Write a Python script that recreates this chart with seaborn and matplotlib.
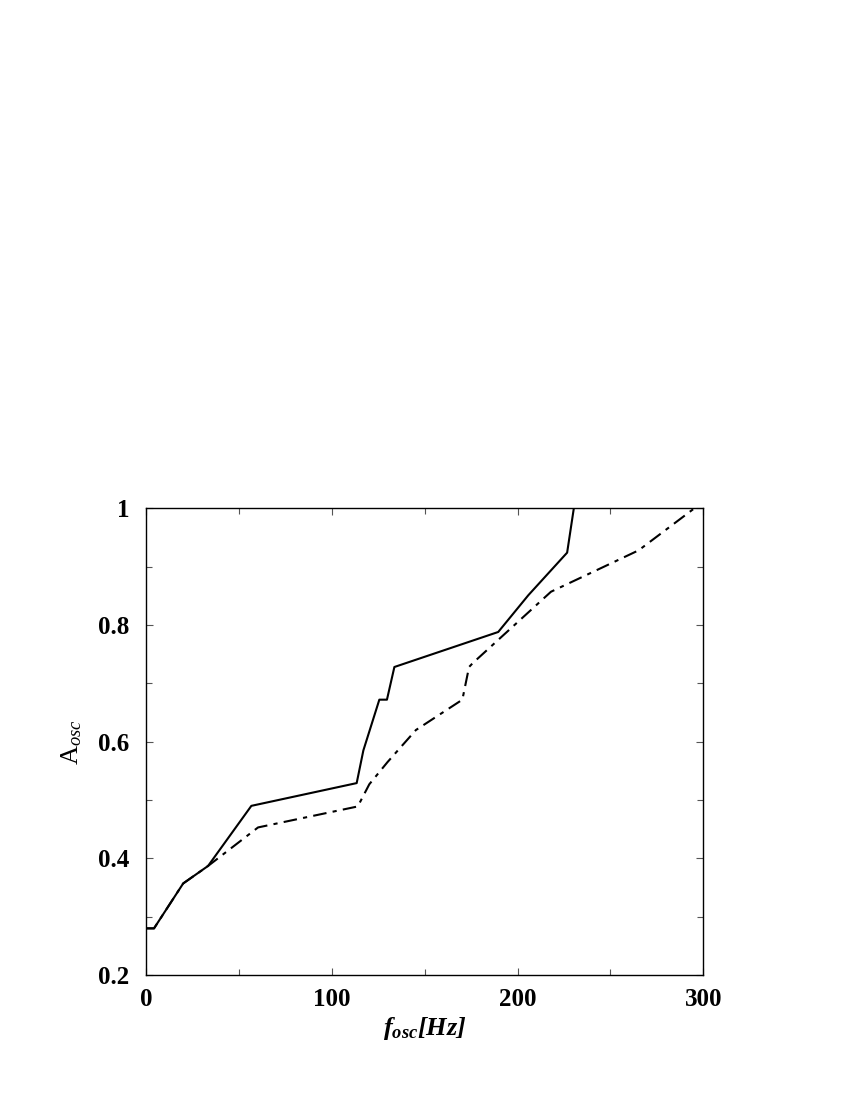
import matplotlib
matplotlib.use("Agg")
import matplotlib.pyplot as plt
import seaborn as sns
import pandas as pd
from matplotlib.ticker import MultipleLocator, FixedLocator

# Data
freq_solid = [0, 4.3, 20, 33.4, 56.7, 113.4, 117, 125.6, 129.7, 133.7, 189.6, 205.8, 226.7, 230.3]
amp_solid = [0.28, 0.28, 0.357, 0.387, 0.490, 0.529, 0.585, 0.672, 0.672, 0.728, 0.788, 0.851, 0.924, 1.0]

freq_dash = [0, 4.3, 20, 33.4, 60.3, 114, 120.2, 130, 145.3, 170.3, 173.9, 176, 218, 265.2, 295.2]
amp_dash = [0.28, 0.28, 0.357, 0.387, 0.453, 0.489, 0.527, 0.565, 0.620, 0.672, 0.728, 0.735, 0.857, 0.928, 1.0]

x_ticks = [0, 100, 200, 300]
x_ticklabels = ["0", "100", "200", "300"]
y_ticks = [0.2, 0.4, 0.6, 0.8, 1.0]
y_ticklabels = ["0.2", "0.4", "0.6", "0.8", "1"]

sns.set_style("ticks")
plt.rcParams["font.family"] = ["Liberation Serif", "DejaVu Serif"]
plt.rcParams["mathtext.fontset"] = "custom"
plt.rcParams["mathtext.rm"] = "Liberation Serif"
plt.rcParams["mathtext.it"] = "Liberation Serif:italic"
plt.rcParams["mathtext.bf"] = "Liberation Serif:bold:italic"
for key in ["text.color", "axes.labelcolor", "xtick.color", "ytick.color"]:
    plt.rcParams[key] = "black"

fig = plt.figure(figsize=(8.5, 11), dpi=100)
ax = fig.add_axes([0.1718, 0.1136, 0.6556, 0.4243])

df_s = pd.DataFrame({"f": freq_solid, "A": amp_solid})
df_d = pd.DataFrame({"f": freq_dash, "A": amp_dash})

sns.lineplot(data=df_d, x="f", y="A", sort=False, estimator=None, ax=ax,
             color="black", linewidth=1.5)
ax.lines[-1].set_dashes([6.5, 3, 2, 3])
sns.lineplot(data=df_s, x="f", y="A", sort=False, estimator=None, ax=ax,
             color="black", linewidth=1.5)

ax.set_xlim(0, 300)
ax.set_ylim(0.2, 1.0)
ax.xaxis.set_major_locator(FixedLocator(x_ticks))
ax.set_xticklabels(x_ticklabels)
ax.yaxis.set_major_locator(FixedLocator(y_ticks))
ax.set_yticklabels(y_ticklabels)
ax.xaxis.set_minor_locator(MultipleLocator(50))
ax.yaxis.set_minor_locator(MultipleLocator(0.1))
ax.tick_params(which="both", direction="in", top=True, right=True, width=0.8, color="#555555")
ax.tick_params(which="major", length=5, labelsize=18)
ax.tick_params(axis="y", which="major", pad=12)
ax.tick_params(axis="x", which="major", pad=9)
ax.tick_params(which="minor", length=4)
for lab in ax.get_xticklabels() + ax.get_yticklabels():
    lab.set_fontweight("bold")
    lab.set_fontfamily("Liberation Serif")
for sp in ax.spines.values():
    sp.set_linewidth(1.0)
    sp.set_color("black")

ax.set_xlabel(r"$\mathbf{f_{osc}[Hz]}$", fontsize=19, labelpad=3)
ax.set_ylabel(r"$\mathrm{A}_{\mathit{osc}}$", fontsize=19, labelpad=10)

fig.savefig("out.png", dpi=100)
